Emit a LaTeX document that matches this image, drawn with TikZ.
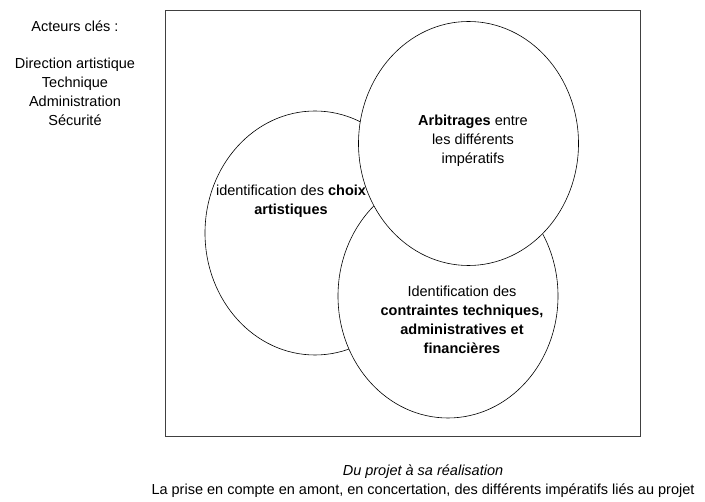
\documentclass[tikz,border=0pt]{standalone}
\usepackage{fontspec}
\setmainfont{Liberation Sans}
\usetikzlibrary{shapes.geometric}

\begin{document}
\begin{tikzpicture}[x=1pt, y=-1pt]
    \tikzstyle{rond} = [draw, ellipse, fill=white, inner sep=0pt, line width=0.6pt, minimum width=220pt, minimum height=244pt];
    \tikzstyle{texte} = [align=center, font=\fontsize{14.5}{18.8}\selectfont, inner sep=0pt];
    \useasboundingbox (0,0) rectangle (705,502);
    \node [draw=black!75, line width=0.8pt, minimum width=475pt, minimum height=426pt, inner sep=0pt] (cadre) at (402.5,223) {};
    \node [rond] (choix) at (315,233) {};
    \node [rond] (contraintes) at (448,296) {};
    \node [rond] (arbitrages) at (468.5,143.5) {};
    \node [texte, anchor=north] (acteurs) at (75,21) {Acteurs clés :\\[18pt] Direction artistique\\ Technique\\ Administration\\ Sécurité};
    \node [texte, anchor=north] (t-arb) at (473,115) {\textbf{Arbitrages} entre\\ les différents\\ impératifs};
    \node [texte, anchor=north] (t-choix) at (291,185) {identification des \textbf{choix}\\ \textbf{artistiques}};
    \node [texte, anchor=north] (t-contr) at (462,286) {Identification des\\ \textbf{contraintes techniques,}\\ \textbf{administratives et}\\ \textbf{financières}};
    \node [texte, anchor=north] (legende) at (423,465) {\textit{Du projet à sa réalisation}\\ La prise en compte en amont, en concertation, des différents impératifs liés au projet};
\end{tikzpicture}
\end{document}
